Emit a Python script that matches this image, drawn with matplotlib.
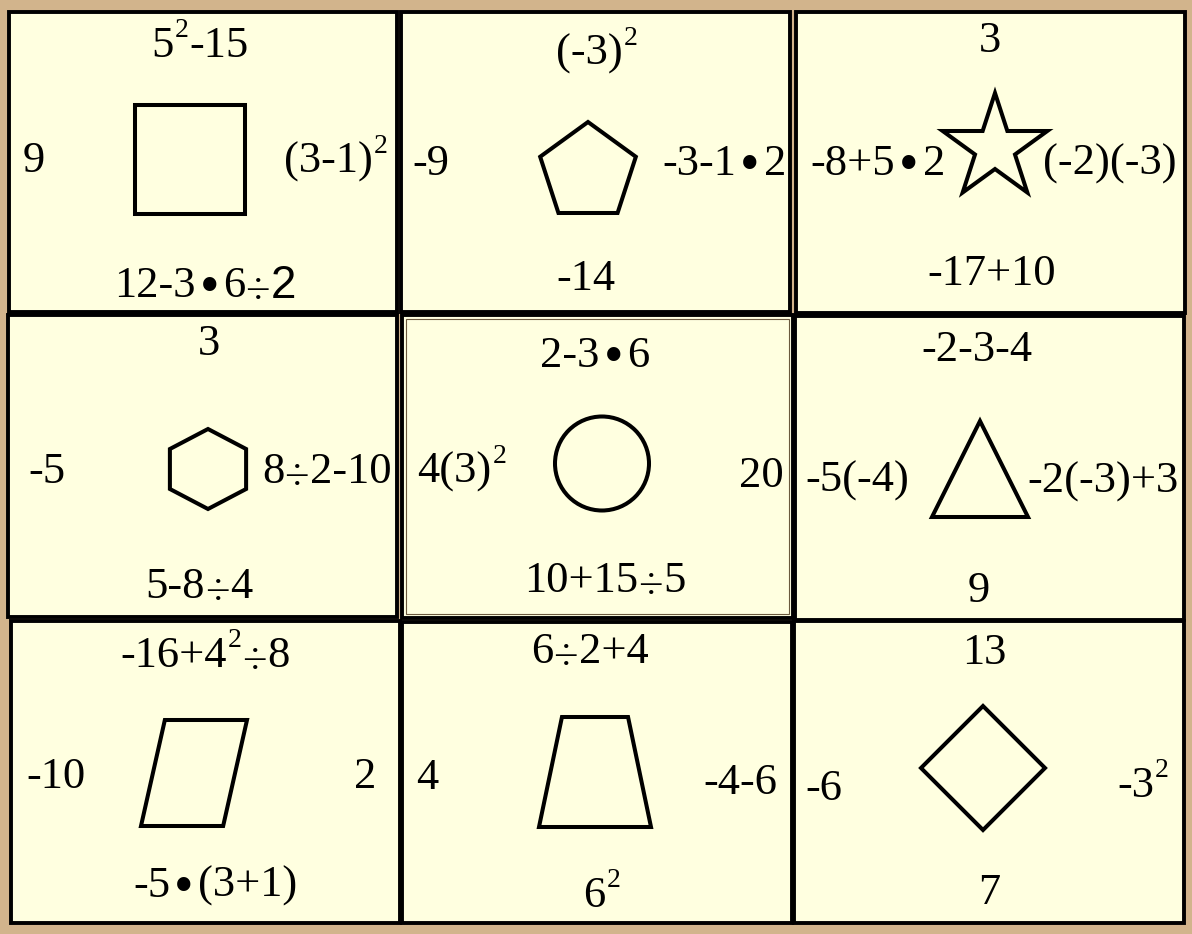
import numpy as np
import matplotlib.pyplot as plt
from matplotlib.patches import Rectangle, Polygon, Circle

plt.rcParams['font.family'] = ['Liberation Serif', 'DejaVu Serif']

# puzzle content, cells row by row (left to right, top to bottom)
shapes = ['square', 'pentagon', 'star',
          'hexagon', 'circle', 'triangle',
          'parallelogram', 'trapezoid', 'diamond']
top_labels = ['5²-15', '(-3)²', '3',
              '3', '2-3•6', '-2-3-4',
              '-16+4²÷8', '6÷2+4', '13']
left_labels = ['9', '-9', '-8+5•2',
               '-5', '4(3)²', '-5(-4)',
               '-10', '4', '-6']
right_labels = ['(3-1)²', '-3-1•2', '(-2)(-3)',
                '8÷2-10', '20', '-2(-3)+3',
                '2', '-4-6', '-3²']
bottom_labels = ['12-3•6÷2', '-14', '-17+10',
                 '5-8÷4', '10+15÷5', '9',
                 '-5•(3+1)', '6²', '7']
sans_tail = [0]  # bottom label whose last digit is set in a sans font

# ---- layout, in pixels of the 1192x934 picture (y grows downwards) ----
cells = [(8.5, 11.5, 397, 312), (400.5, 11.5, 790, 312), (795.5, 12, 1184.5, 313),
         (8, 315, 397, 617), (401.5, 315, 793, 618), (795, 316, 1184, 620),
         (11, 621, 400, 923), (402, 622, 792, 923), (794, 621, 1184, 923)]
double_border = [4]

# shape center and half sizes
shape_geom = [(190, 159.5, 55, 54.5), (588, 172.3, 50.3, 50.3), (995, 148, 55, 55),
              (208, 469, 44, 40), (602, 463.5, 47, 47), (980, 469, 48, 48),
              (194, 773, 53, 53), (595, 772, 56, 55), (983, 768, 62, 62)]

# label anchor points (center x, baseline y)
top_pos = [(200, 57), (597, 65), (990, 52),
           (209, 355), (595, 367), (977, 361),
           (205, 667), (590, 663), (984, 664)]
left_pos = [(34, 172), (431, 175), (878, 175),
            (47, 483), (462, 483), (857, 492),
            (56, 788), (427, 789), (824, 800)]
right_pos = [(336, 173), (724, 175), (1110, 175),
             (327, 483), (761, 487), (1103, 493),
             (365, 788), (740, 794), (1143, 797)]
bottom_pos = [(205, 297), (586, 290), (992, 285),
              (199, 598), (605, 592), (979, 602),
              (215, 897), (602, 907), (989, 904)]

FS = 32
# how the special signs are set: font size, baseline shift (px, down>0),
# gap before / after (px), font family
seg_style = {
    'normal': dict(size=FS, dy=0, pre=1, post=0, family=None),
    'sup': dict(size=20, dy=-20, pre=1, post=0, family=None),
    'bullet': dict(size=40, dy=6, pre=4, post=3, family=None),
    'div': dict(size=FS, dy=6, pre=0, post=0, family=None),
    'sans': dict(size=FS + 1, dy=1, pre=1, post=0, family='Liberation Sans'),
}
special = {'²': ('2', 'sup'), '•': ('•', 'bullet'), '÷': ('÷', 'div')}


def unit_shape(kind):
    """Vertices of a shape with half size 1, y pointing down."""
    if kind == 'square':
        return [(-1, -1), (1, -1), (1, 1), (-1, 1)]
    if kind in ('pentagon', 'hexagon'):
        n = 5 if kind == 'pentagon' else 6
        a = -np.pi / 2 + 2 * np.pi * np.arange(n) / n
        return np.column_stack([np.cos(a), np.sin(a)])
    if kind == 'star':
        a = -np.pi / 2 + np.pi * np.arange(10) / 5
        r = np.where(np.arange(10) % 2 == 0, 1.0, 0.382)
        return np.column_stack([r * np.cos(a), r * np.sin(a)])
    if kind == 'triangle':
        return [(0, -1), (1, 1), (-1, 1)]
    if kind == 'parallelogram':
        return [(-0.55, -1), (1, -1), (0.55, 1), (-1, 1)]
    if kind == 'trapezoid':
        return [(-0.59, -1), (0.59, -1), (1, 1), (-1, 1)]
    if kind == 'diamond':
        return [(0, -1), (1, 0), (0, 1), (-1, 0)]
    return None


def split_label(s, sans_last=False):
    """Cut a label into runs of plain text and single special signs."""
    segs = []
    buf = ''
    chars = list(s)
    for k, ch in enumerate(chars):
        if sans_last and k == len(chars) - 1:
            if buf:
                segs.append((buf, 'normal'))
                buf = ''
            segs.append((ch, 'sans'))
        elif ch in special:
            if buf:
                segs.append((buf, 'normal'))
                buf = ''
            segs.append(special[ch])
        else:
            buf += ch
    if buf:
        segs.append((buf, 'normal'))
    return segs


def draw_label(ax, renderer, s, cx, base, sans_last=False):
    """Set a label centred on cx with its baseline at base."""
    items = []
    for txt, kind in split_label(s, sans_last):
        st = seg_style[kind]
        kw = dict(fontsize=st['size'], ha='left', va='baseline', zorder=3)
        if st['family']:
            kw['family'] = st['family']
        t = ax.text(0, base + st['dy'], txt, **kw)
        w = t.get_window_extent(renderer=renderer).width
        items.append((t, w, st))
    total = 0
    for k, (t, w, st) in enumerate(items):
        if k > 0:
            total += st['pre'] + items[k - 1][2]['post']
        total += w
    x = cx - total / 2
    for k, (t, w, st) in enumerate(items):
        if k > 0:
            x += st['pre'] + items[k - 1][2]['post']
        t.set_x(x)
        x += w


fig = plt.figure(figsize=(11.92, 9.34), dpi=100)
fig.patch.set_facecolor('#D2B48C')
ax = fig.add_axes([0, 0, 1, 1])
ax.set_xlim(0, 1192)
ax.set_ylim(934, 0)
ax.axis('off')
renderer = fig.canvas.get_renderer()

cell_fill = '#FFFFE0'
for i, (x0, y0, x1, y1) in enumerate(cells):
    ax.add_patch(Rectangle((x0, y0), x1 - x0, y1 - y0, facecolor=cell_fill,
                           edgecolor='black', lw=2.8, zorder=1))
    if i in double_border:
        ax.add_patch(Rectangle((x0 + 4, y0 + 4), x1 - x0 - 8, y1 - y0 - 8,
                               facecolor='none', edgecolor='#6b5a3e', lw=0.8,
                               zorder=1))

for kind, (cx, cy, rx, ry) in zip(shapes, shape_geom):
    if kind == 'circle':
        patch = Circle((cx, cy), rx)
    else:
        v = np.asarray(unit_shape(kind), dtype=float)
        patch = Polygon(np.column_stack([cx + rx * v[:, 0], cy + ry * v[:, 1]]),
                        closed=True)
    patch.set_facecolor('none')
    patch.set_edgecolor('black')
    patch.set_linewidth(2.9)
    patch.set_joinstyle('miter')
    patch.set_zorder(2)
    ax.add_patch(patch)

for labels, pos in [(top_labels, top_pos), (left_labels, left_pos),
                    (right_labels, right_pos)]:
    for s, (x, y) in zip(labels, pos):
        draw_label(ax, renderer, s, x, y)

for i, (s, (x, y)) in enumerate(zip(bottom_labels, bottom_pos)):
    draw_label(ax, renderer, s, x, y, sans_last=(i in sans_tail))

fig.savefig('out.png', dpi=100, facecolor=fig.get_facecolor())
